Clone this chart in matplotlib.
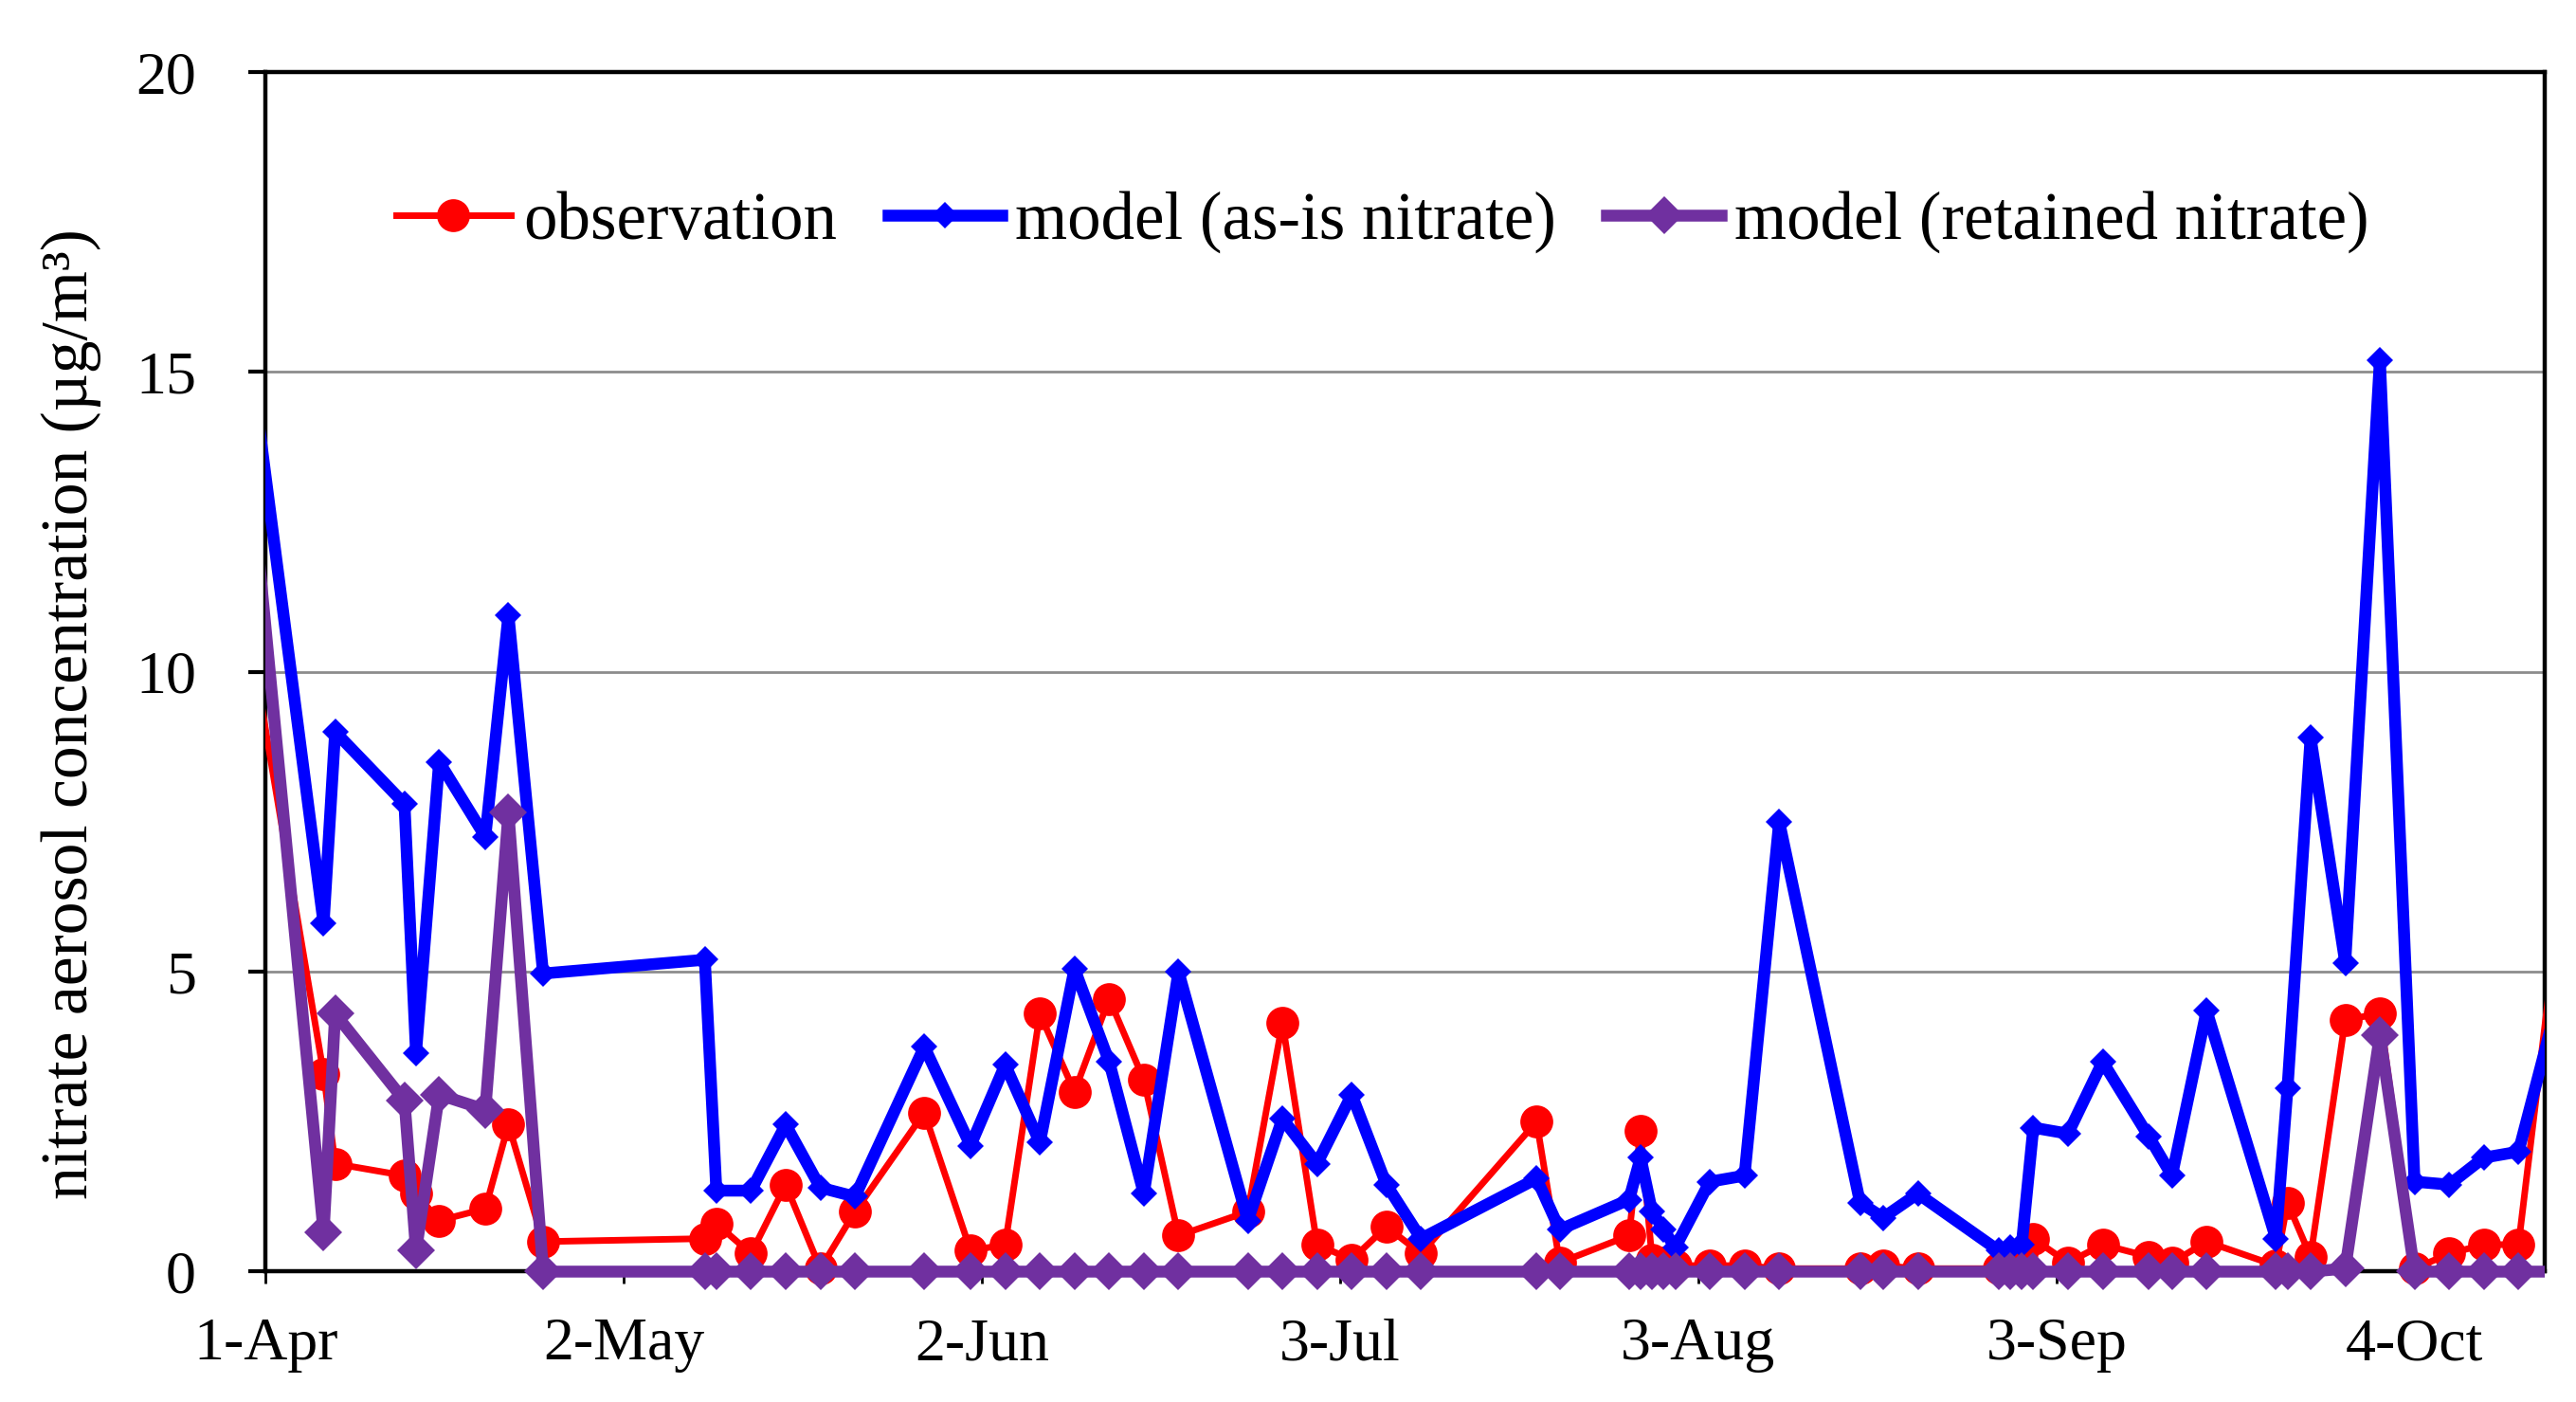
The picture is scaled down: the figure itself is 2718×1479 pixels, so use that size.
import numpy as np
import pandas as pd
import matplotlib
matplotlib.use('Agg')
from matplotlib import pyplot as plt
from matplotlib.patches import Rectangle
import matplotlib.dates as mdates

# sampling dates (first and last points sit just outside the visible range)
dates = ['03-30', '04-06', '04-07', '04-13', '04-14', '04-16', '04-20', '04-22', '04-25',
         '05-09', '05-10', '05-13', '05-16', '05-19', '05-22', '05-28',
         '06-01', '06-04', '06-07', '06-10', '06-13', '06-16', '06-19', '06-25', '06-28',
         '07-01', '07-04', '07-07', '07-10', '07-20', '07-22', '07-28', '07-29', '07-30', '07-31',
         '08-01', '08-04', '08-07', '08-10', '08-17', '08-19', '08-22', '08-29', '08-30', '08-31',
         '09-01', '09-04', '09-07', '09-11', '09-13', '09-16', '09-22', '09-23', '09-25', '09-28',
         '10-01', '10-04', '10-07', '10-10', '10-13', '10-17']

observation = [11.3, 3.3, 1.8, 1.6, 1.3, 0.85, 1.05, 2.45, 0.5,
               0.55, 0.8, 0.3, 1.45, 0.05, 1.0, 2.65,
               0.35, 0.45, 4.3, 3.0, 4.55, 3.2, 0.6, 1.0, 4.15,
               0.45, 0.2, 0.75, 0.3, 2.5, 0.15, 0.6, 2.35, 0.2, 0.15,
               0.1, 0.1, 0.1, 0.05, 0.05, 0.1, 0.05, 0.05, 0.1, 0.3,
               0.55, 0.15, 0.45, 0.25, 0.15, 0.5, 0.1, 1.15, 0.25, 4.2,
               4.3, 0.05, 0.3, 0.45, 0.45, 6.85]

model_asis = [16.2, 5.8, 9.0, 7.8, 3.65, 8.5, 7.25, 10.95, 4.97,
              5.2, 1.35, 1.35, 2.45, 1.4, 1.25, 3.75,
              2.1, 3.45, 2.15, 5.05, 3.5, 1.3, 5.0, 0.85, 2.55,
              1.8, 2.95, 1.45, 0.55, 1.55, 0.7, 1.2, 1.9, 1.0, 0.7,
              0.4, 1.5, 1.6, 7.5, 1.15, 0.9, 1.3, 0.35, 0.4, 0.45,
              2.4, 2.3, 3.5, 2.25, 1.6, 4.35, 0.55, 3.05, 8.9, 5.15,
              15.2, 1.5, 1.45, 1.9, 2.0, 4.95]

model_retained = [14.7, 0.65, 4.3, 2.85, 0.35, 2.95, 2.7, 7.65, 0.0,
                  0.0, 0.0, 0.0, 0.0, 0.0, 0.0, 0.0,
                  0.0, 0.0, 0.0, 0.0, 0.0, 0.0, 0.0, 0.0, 0.0,
                  0.0, 0.0, 0.0, 0.0, 0.0, 0.0, 0.0, 0.0, 0.0, 0.0,
                  0.0, 0.0, 0.0, 0.0, 0.0, 0.0, 0.0, 0.0, 0.0, 0.0,
                  0.0, 0.0, 0.0, 0.0, 0.0, 0.0, 0.0, 0.0, 0.0, 0.05,
                  3.95, 0.0, 0.0, 0.0, 0.0, 0.0]

tick_dates = ['04-01', '05-02', '06-02', '07-03', '08-03', '09-03', '10-04']
tick_labels = ['1-Apr', '2-May', '2-Jun', '3-Jul', '3-Aug', '3-Sep', '4-Oct']

year = '2019-'
x = pd.to_datetime([year + d for d in dates])
xt = pd.to_datetime([year + d for d in tick_dates])

serif = ['Liberation Serif', 'DejaVu Serif']
plt.rcParams['font.family'] = serif

fig = plt.figure(figsize=(27.18, 14.79), dpi=100)
ax = fig.add_axes([0.1032, 0.093, 0.8848, 0.8556])

start = mdates.date2num(pd.Timestamp(year + '04-01'))
end = start + 197.3

# clip only at the left/right edges, so marks sitting on the zero line show whole
clip = Rectangle((0, -0.05), 1, 1.1, transform=ax.transAxes, facecolor='none')

series = [
    (observation, '#ff0000', 5, 'o', 25, 'observation', 3),
    (model_asis, '#0000ff', 9, 'D', 14, 'model (as-is nitrate)', 4),
    (model_retained, '#7030a0', 9, 'D', 20, 'model (retained nitrate)', 5),
]
for vals, col, lw, mk, ms, lab, z in series:
    ln, = ax.plot(x, vals, color=col, linewidth=lw, marker=mk, markersize=ms,
                  markeredgewidth=0, solid_joinstyle='round', label=lab, zorder=z)
    ln.set_clip_path(clip)

ax.set_xlim(start, end)
ax.set_ylim(0, 20)

ax.set_yticks([0, 5, 10, 15, 20])
ax.set_xticks(xt)
ax.set_xticklabels(tick_labels)

ax.yaxis.grid(True, color='#8c8c8c', linewidth=2)
ax.set_axisbelow(True)

for s in ax.spines.values():
    s.set_linewidth(3.2)
    s.set_color('black')
    s.set_zorder(2.5)

ax.tick_params(axis='y', direction='out', length=13, width=3, labelsize=46, pad=40)
ax.tick_params(axis='x', direction='out', length=9, width=2, labelsize=46, pad=26)

ax.set_ylabel('nitrate aerosol concentration (µg/m³)', fontsize=50, family=serif)
ax.yaxis.set_label_coords(-0.072, 0.465)

leg = ax.legend(loc='center', bbox_to_anchor=(0.49, 0.875), ncol=3, frameon=False,
                fontsize=51, handlelength=1.7, handletextpad=0.2, columnspacing=0.75)

fig.savefig('out.png', dpi=100)
